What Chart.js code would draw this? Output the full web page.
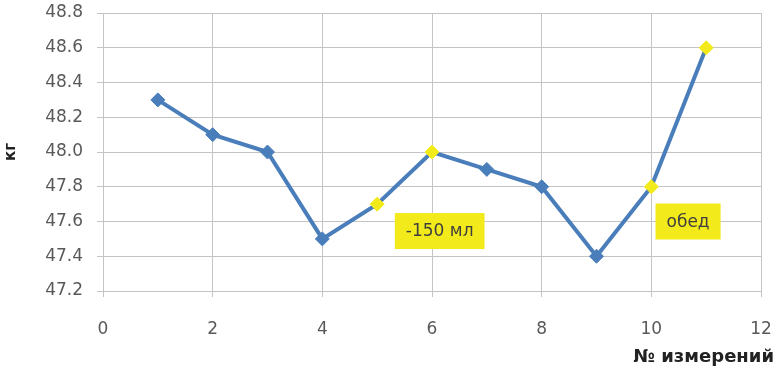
<!DOCTYPE html>
<html>
<head>
<meta charset="utf-8">
<script src="https://cdn.jsdelivr.net/npm/chart.js"></script>
<style>
  html, body { margin: 0; padding: 0; background: #fff; }
  #wrap { width: 778px; height: 375px; }
</style>
</head>
<body>
<div id="wrap"><canvas id="weightChart" width="778" height="375"></canvas></div>
<script>
// номера измерений и вес
const measureNo = [1, 2, 3, 4, 5, 6, 7, 8, 9, 10, 11];
const weightKg = [48.3, 48.1, 48.0, 47.5, 47.7, 48.0, 47.9, 47.8, 47.4, 47.8, 48.6];
// какие точки выделены жёлтым
const highlighted = [false, false, false, false, true, true, false, false, false, true, true];
const xTicks = [0, 2, 4, 6, 8, 10, 12];
const yTicks = [47.2, 47.4, 47.6, 47.8, 48.0, 48.2, 48.4, 48.6, 48.8];
const notes = [
  { text: '-150 мл', x: 6.14, y: 47.545 },
  { text: 'обед', x: 10.67, y: 47.6 }
];

const blue = '#4a7ebb';
const yellow = '#f2ea1a';
const gridColor = '#c4c4c4';
const tickFont = { family: "'DejaVu Sans', sans-serif", size: 17 };

// жёлтые подписи и заголовок оси X
const notesPlugin = {
  id: 'notes',
  afterDatasetsDraw(chart) {
    const ctx = chart.ctx;
    const xs = chart.scales.x, ys = chart.scales.y;
    ctx.save();
    ctx.font = "17px 'DejaVu Sans', sans-serif";
    ctx.textAlign = 'center';
    ctx.textBaseline = 'middle';
    notes.forEach(n => {
      const cx = xs.getPixelForValue(n.x);
      const cy = ys.getPixelForValue(n.y);
      const w = ctx.measureText(n.text).width + 22;
      const h = 36;
      ctx.fillStyle = yellow;
      ctx.fillRect(cx - w / 2, cy - h / 2, w, h);
      ctx.fillStyle = '#3f3f3f';
      ctx.fillText(n.text, cx, cy + 1);
    });
    ctx.font = "bold 18px 'DejaVu Sans', sans-serif";
    ctx.textAlign = 'right';
    ctx.fillStyle = '#222';
    ctx.fillText('№ измерений', chart.chartArea.right + 13, 357);
    ctx.restore();
  }
};

const ctx = document.getElementById('weightChart').getContext('2d');
new Chart(ctx, {
  type: 'scatter',
  data: {
    datasets: [{
      data: measureNo.map((n, i) => ({ x: n, y: weightKg[i] })),
      showLine: true,
      borderColor: blue,
      borderWidth: 4,
      pointStyle: 'rectRot',
      pointRadius: 7,
      pointBorderWidth: 1,
      pointBackgroundColor: highlighted.map(h => h ? yellow : blue),
      pointBorderColor: highlighted.map(h => h ? yellow : blue)
    }]
  },
  options: {
    responsive: false,
    animation: false,
    layout: { padding: { top: 13, right: 17, bottom: 0, left: 0 } },
    plugins: { legend: { display: false }, tooltip: { enabled: false } },
    scales: {
      x: {
        min: 0, max: 12,
        afterBuildTicks: s => { s.ticks = xTicks.map(v => ({ value: v })); },
        afterFit: s => { s.height = 84; s.paddingLeft = 0; s.paddingRight = 0; },
        grid: { color: gridColor, tickLength: 6 },
        border: { color: gridColor },
        ticks: { color: '#595959', font: tickFont, padding: 22, maxRotation: 0 }
      },
      y: {
        min: 47.2, max: 48.8,
        afterBuildTicks: s => { s.ticks = yTicks.map(v => ({ value: v })); },
        afterFit: s => { s.width = 103; s.paddingTop = 0; s.paddingBottom = 0; },
        grid: { color: gridColor, tickLength: 6 },
        border: { color: gridColor },
        ticks: { color: '#595959', font: tickFont, padding: 14, callback: v => v.toFixed(1) },
        title: {
          display: true, text: 'кг', color: '#222',
          font: { family: "'DejaVu Sans', sans-serif", size: 15, weight: 'bold' },
          padding: { top: 2, bottom: 0 }
        }
      }
    }
  },
  plugins: [notesPlugin]
});
</script>
</body>
</html>
